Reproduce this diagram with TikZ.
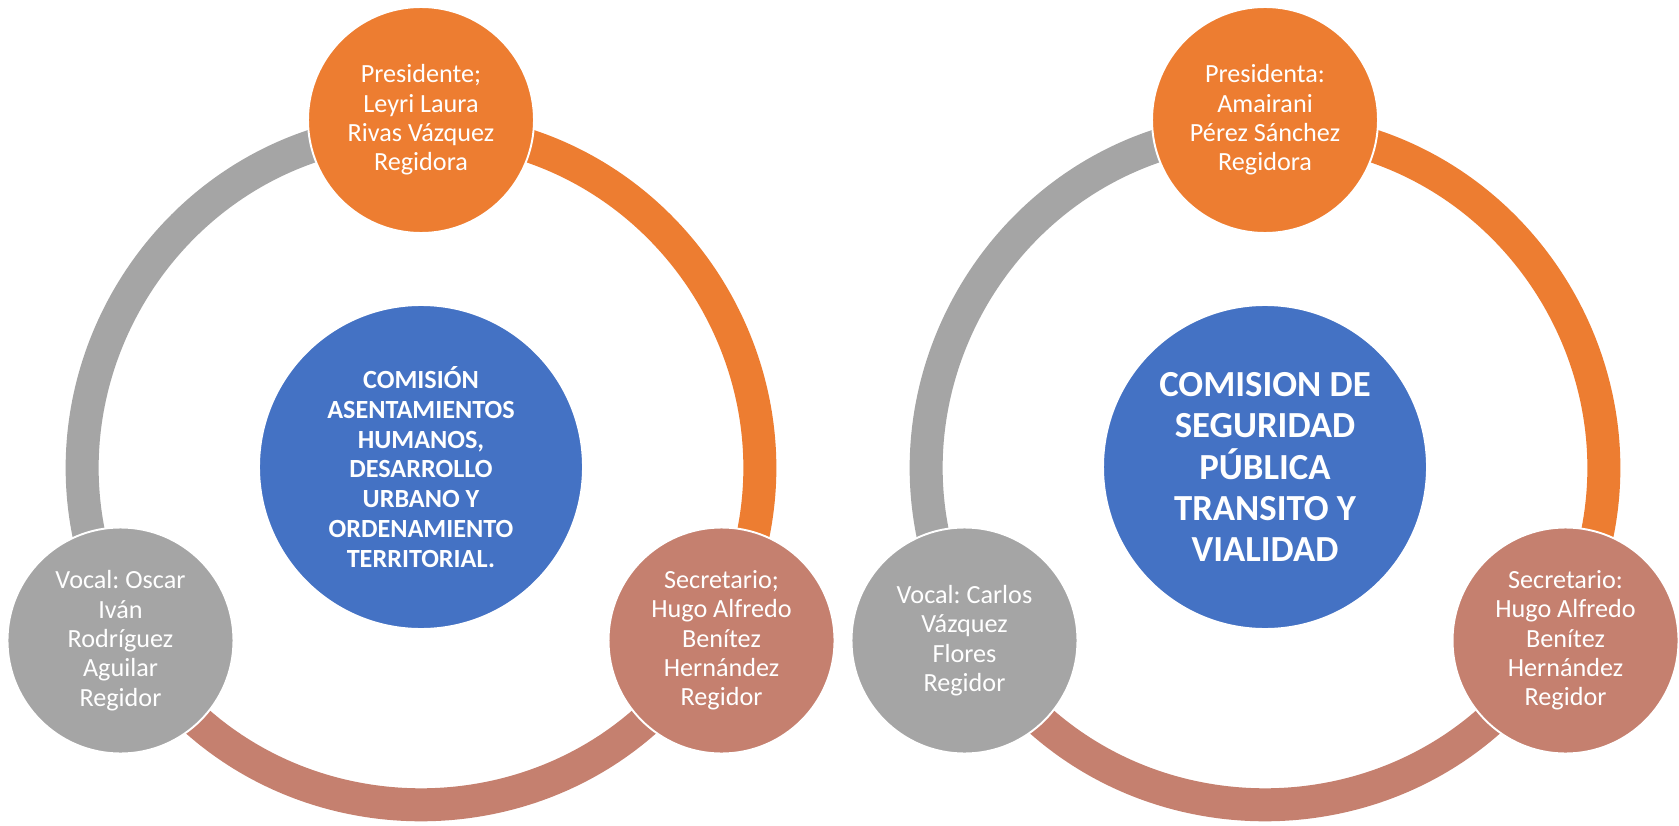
\documentclass[tikz,border=0pt]{standalone}
\usepackage{fontspec}
\setmainfont{Carlito}
\frenchspacing
\definecolor{accorange}{RGB}{237,125,49}
\definecolor{accgray}{RGB}{165,165,165}
\definecolor{accblue}{RGB}{68,114,196}
\definecolor{accrose}{RGB}{197,128,111}
\usetikzlibrary{calc}
\pgfdeclarelayer{bg}
\pgfsetlayers{bg,main}
\tikzset{
  hubnode/.style={circle, draw=white, fill=accblue, minimum size=6.48cm, inner sep=0pt, line width=1.1pt, align=center, text=white, font=\bfseries\fontsize{14.9}{16.9}\selectfont},
  member/.style={circle, draw=white, fill=#1, minimum size=4.52cm, inner sep=0pt, line width=1.1pt, align=center, text=white, font=\fontsize{14.9}{16.7}\selectfont},
  ringarc/.style={draw=#1, line width=0.66cm},
}

\begin{document}
\begin{tikzpicture}
\useasboundingbox (0,0) rectangle (33.58,16.5);
\begin{pgfonlayer}{bg}
\fill[white] (0,0) rectangle (33.58,16.5);
\end{pgfonlayer}

% asentamientos humanos
\begin{scope}[shift={(8.42,7.16)}]
\node[hubnode] (hubL) at (0,0) {COMISIÓN\\ASENTAMIENTOS\\HUMANOS,\\DESARROLLO\\URBANO Y\\ORDENAMIENTO\\TERRITORIAL.};
\node[member=accorange] (presL) at (90:6.94) {Presidente;\\Leyri Laura\\Rivas Vázquez\\Regidora};
\node[member=accrose] (secL) at (-30:6.94) {Secretario;\\Hugo Alfredo\\Benítez\\Hernández\\Regidor};
\node[member=accgray] (vocL) at (210:6.94) {Vocal: Oscar\\Iván\\Rodríguez\\Aguilar\\Regidor};
\begin{pgfonlayer}{bg}
\draw[ringarc=accgray] ($(hubL)!6.77cm!(presL)$) to[bend right=60, looseness=1.135] ($(hubL)!6.77cm!(vocL)$);
\draw[ringarc=accrose] ($(hubL)!6.77cm!(vocL)$) to[bend right=60, looseness=1.135] ($(hubL)!6.77cm!(secL)$);
\draw[ringarc=accorange] ($(hubL)!6.77cm!(secL)$) to[bend right=60, looseness=1.135] ($(hubL)!6.77cm!(presL)$);
\end{pgfonlayer}
\end{scope}

% seguridad publica
\begin{scope}[shift={(25.30,7.16)}]
\node[hubnode, font=\bfseries\fontsize{20.9}{23.4}\selectfont] (hubR) at (0,0) {COMISION DE\\SEGURIDAD\\PÚBLICA\\TRANSITO Y\\VIALIDAD};
\node[member=accorange] (presR) at (90:6.94) {Presidenta:\\Amairani\\Pérez Sánchez\\Regidora};
\node[member=accrose] (secR) at (-30:6.94) {Secretario:\\Hugo Alfredo\\Benítez\\Hernández\\Regidor};
\node[member=accgray] (vocR) at (210:6.94) {Vocal: Carlos\\Vázquez\\Flores\\Regidor};
\begin{pgfonlayer}{bg}
\draw[ringarc=accgray] ($(hubR)!6.77cm!(presR)$) to[bend right=60, looseness=1.135] ($(hubR)!6.77cm!(vocR)$);
\draw[ringarc=accrose] ($(hubR)!6.77cm!(vocR)$) to[bend right=60, looseness=1.135] ($(hubR)!6.77cm!(secR)$);
\draw[ringarc=accorange] ($(hubR)!6.77cm!(secR)$) to[bend right=60, looseness=1.135] ($(hubR)!6.77cm!(presR)$);
\end{pgfonlayer}
\end{scope}
\end{tikzpicture}
\end{document}
